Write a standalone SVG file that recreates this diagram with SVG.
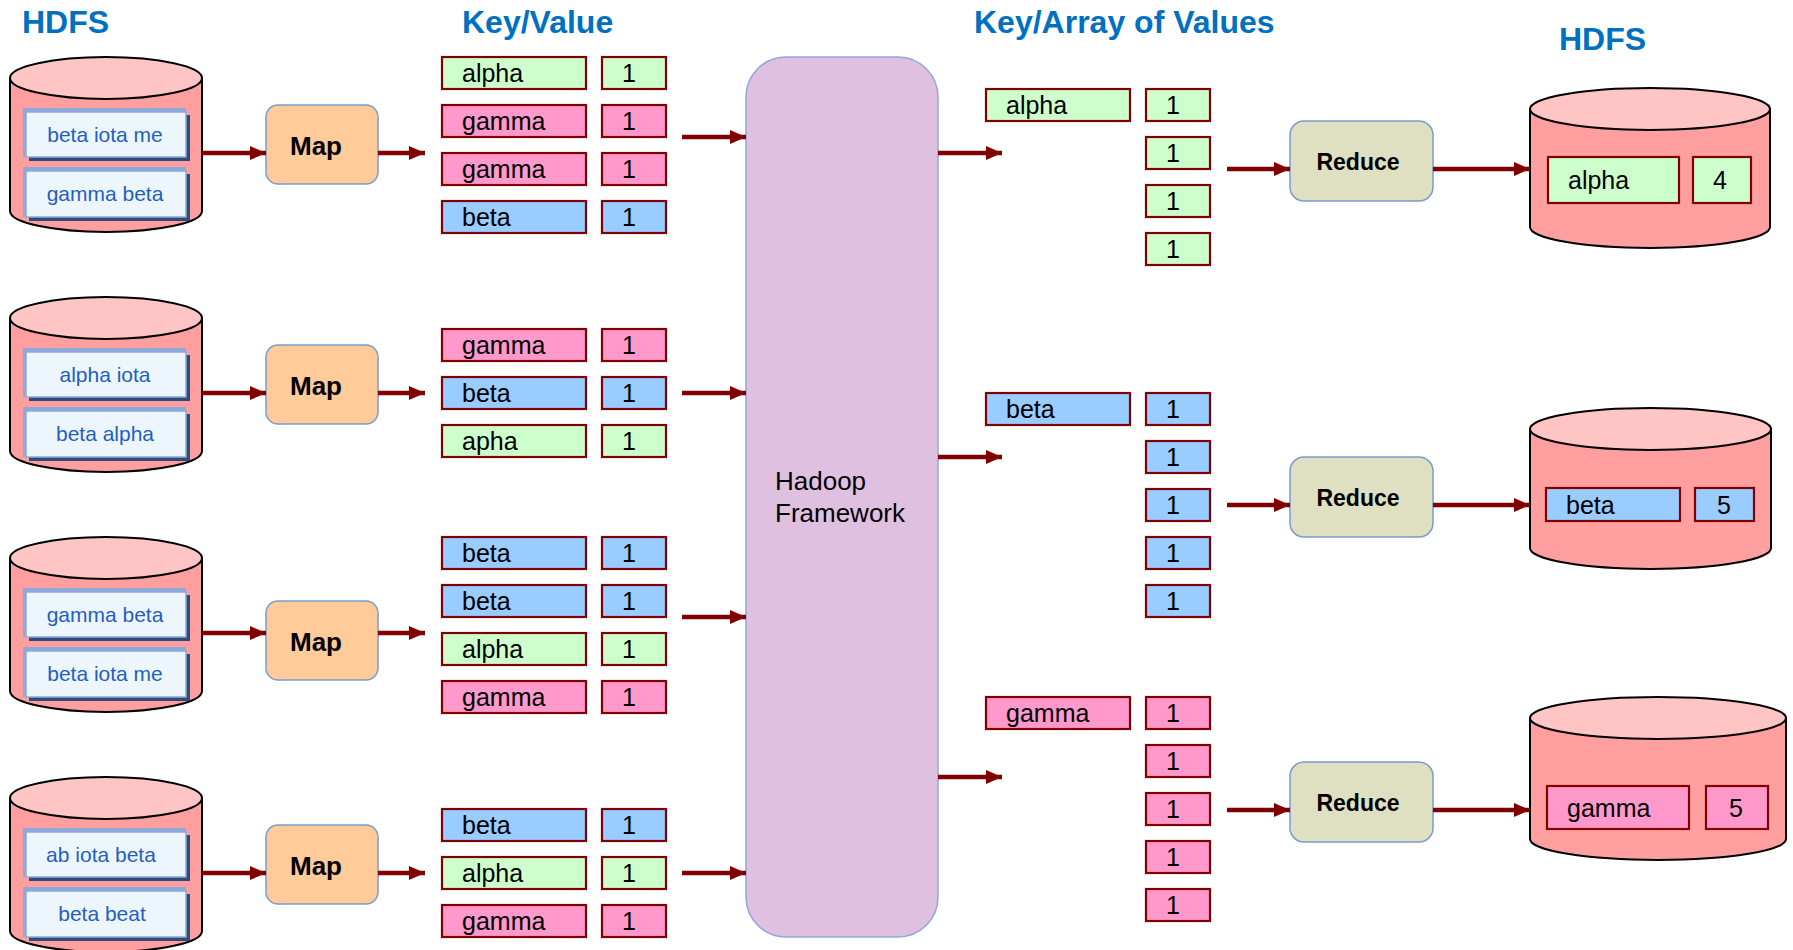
<svg xmlns="http://www.w3.org/2000/svg" width="1793" height="950" viewBox="0 0 1793 950">
  <defs>
    <marker id="arrow" markerUnits="userSpaceOnUse" markerWidth="17" markerHeight="15" refX="16" refY="7" orient="auto">
      <path d="M0,0 L16,7 L0,14 Z" fill="#800000"/>
    </marker>
    <style>
      .title { font-family: "Liberation Sans", Arial, sans-serif; font-weight: bold; font-size: 32px; fill: #0070C0; }
      .cyl-body { fill: #FF9F9F; stroke: #000; stroke-width: 2; }
      .cyl-top { fill: #FFC5C5; stroke: #000; stroke-width: 2; }
      .doc-back { fill: #8DA9DB; }
      .doc-shadow { fill: #2F4B7A; }
      .doc { fill: #EEF6FD; stroke: #8DA9DB; stroke-width: 1.5; }
      .doc-text { font-family: "Liberation Sans", Arial, sans-serif; font-size: 21px; fill: #1F5FC4; text-anchor: middle; }
      .proc { stroke: #7A9CD0; stroke-width: 1.5; }
      .map { fill: #FFCC99; }
      .reduce { fill: #DFDFC1; }
      .proc-text { font-family: "Liberation Sans", Arial, sans-serif; font-weight: bold; fill: #000; text-anchor: middle; }
      .cell { stroke: #800000; stroke-width: 2.2; }
      .g { fill: #CCFFCC; }
      .p { fill: #FF99CC; }
      .b { fill: #99CCFF; }
      .cell-text { font-family: "Liberation Sans", Arial, sans-serif; font-size: 25px; fill: #000; }
      .hadoop { fill: #E0C0E0; stroke: #8FA8D8; stroke-width: 1.5; }
      .hadoop-text { font-family: "Liberation Sans", Arial, sans-serif; font-size: 26px; fill: #000; }
      .conn { stroke: #800000; stroke-width: 4.5; fill: none; marker-end: url(#arrow); }
    </style>
  </defs>

  <rect width="1793" height="950" fill="#fff"/>

  <!-- column headings -->
  <text class="title" x="22" y="33" font-size="31">HDFS</text>
  <text class="title" x="462" y="33">Key/Value</text>
  <text class="title" x="974" y="33">Key/Array of Values</text>
  <text class="title" x="1559" y="50" font-size="31">HDFS</text>

  <!-- input HDFS stores -->
  <g id="hdfs-in-1">
    <path class="cyl-body" d="M10,78 L10,211 A96,21 0 0 0 202,211 L202,78 Z"/>
    <ellipse class="cyl-top" cx="106" cy="78" rx="96" ry="21"/>
    <rect class="doc-shadow" x="29" y="115" width="161" height="46"/>
    <rect class="doc-back" x="23" y="108" width="163" height="49"/>
    <rect class="doc" x="26" y="112" width="160" height="45"/>
    <text class="doc-text" x="105" y="142">beta iota me</text>
    <rect class="doc-shadow" x="29" y="174" width="161" height="47"/>
    <rect class="doc-back" x="23" y="167" width="163" height="50"/>
    <rect class="doc" x="26" y="171" width="160" height="46"/>
    <text class="doc-text" x="105" y="201">gamma beta</text>
  </g>
  <g id="hdfs-in-2">
    <path class="cyl-body" d="M10,318 L10,451 A96,21 0 0 0 202,451 L202,318 Z"/>
    <ellipse class="cyl-top" cx="106" cy="318" rx="96" ry="21"/>
    <rect class="doc-shadow" x="29" y="355" width="161" height="46"/>
    <rect class="doc-back" x="23" y="348" width="163" height="49"/>
    <rect class="doc" x="26" y="352" width="160" height="45"/>
    <text class="doc-text" x="105" y="382">alpha iota</text>
    <rect class="doc-shadow" x="29" y="414" width="161" height="47"/>
    <rect class="doc-back" x="23" y="407" width="163" height="50"/>
    <rect class="doc" x="26" y="411" width="160" height="46"/>
    <text class="doc-text" x="105" y="441">beta alpha</text>
  </g>
  <g id="hdfs-in-3">
    <path class="cyl-body" d="M10,558 L10,691 A96,21 0 0 0 202,691 L202,558 Z"/>
    <ellipse class="cyl-top" cx="106" cy="558" rx="96" ry="21"/>
    <rect class="doc-shadow" x="29" y="595" width="161" height="46"/>
    <rect class="doc-back" x="23" y="588" width="163" height="49"/>
    <rect class="doc" x="26" y="592" width="160" height="45"/>
    <text class="doc-text" x="105" y="622">gamma beta</text>
    <rect class="doc-shadow" x="29" y="654" width="161" height="47"/>
    <rect class="doc-back" x="23" y="647" width="163" height="50"/>
    <rect class="doc" x="26" y="651" width="160" height="46"/>
    <text class="doc-text" x="105" y="681">beta iota me</text>
  </g>
  <g id="hdfs-in-4">
    <path class="cyl-body" d="M10,798 L10,931 A96,21 0 0 0 202,931 L202,798 Z"/>
    <ellipse class="cyl-top" cx="106" cy="798" rx="96" ry="21"/>
    <rect class="doc-shadow" x="29" y="835" width="161" height="46"/>
    <rect class="doc-back" x="23" y="828" width="163" height="49"/>
    <rect class="doc" x="26" y="832" width="160" height="45"/>
    <text class="doc-text" x="101" y="862">ab iota beta</text>
    <rect class="doc-shadow" x="29" y="894" width="161" height="47"/>
    <rect class="doc-back" x="23" y="887" width="163" height="50"/>
    <rect class="doc" x="26" y="891" width="160" height="46"/>
    <text class="doc-text" x="102" y="921">beta beat</text>
  </g>

  <!-- map tasks -->
  <g id="map-1"><rect class="proc map" x="266" y="105" width="112" height="79" rx="12"/><text class="proc-text" x="316" y="155" font-size="26">Map</text></g>
  <g id="map-2"><rect class="proc map" x="266" y="345" width="112" height="79" rx="12"/><text class="proc-text" x="316" y="395" font-size="26">Map</text></g>
  <g id="map-3"><rect class="proc map" x="266" y="601" width="112" height="79" rx="12"/><text class="proc-text" x="316" y="651" font-size="26">Map</text></g>
  <g id="map-4"><rect class="proc map" x="266" y="825" width="112" height="79" rx="12"/><text class="proc-text" x="316" y="875" font-size="26">Map</text></g>

  <!-- map output: key/value pairs -->
  <g id="kv-1">
    <rect class="cell g" x="442" y="57" width="144" height="32"/><text class="cell-text" x="462" y="82">alpha</text>
    <rect class="cell g" x="602" y="57" width="64" height="32"/><text class="cell-text" x="622" y="82">1</text>
    <rect class="cell p" x="442" y="105" width="144" height="32"/><text class="cell-text" x="462" y="130">gamma</text>
    <rect class="cell p" x="602" y="105" width="64" height="32"/><text class="cell-text" x="622" y="130">1</text>
    <rect class="cell p" x="442" y="153" width="144" height="32"/><text class="cell-text" x="462" y="178">gamma</text>
    <rect class="cell p" x="602" y="153" width="64" height="32"/><text class="cell-text" x="622" y="178">1</text>
    <rect class="cell b" x="442" y="201" width="144" height="32"/><text class="cell-text" x="462" y="226">beta</text>
    <rect class="cell b" x="602" y="201" width="64" height="32"/><text class="cell-text" x="622" y="226">1</text>
  </g>
  <g id="kv-2">
    <rect class="cell p" x="442" y="329" width="144" height="32"/><text class="cell-text" x="462" y="354">gamma</text>
    <rect class="cell p" x="602" y="329" width="64" height="32"/><text class="cell-text" x="622" y="354">1</text>
    <rect class="cell b" x="442" y="377" width="144" height="32"/><text class="cell-text" x="462" y="402">beta</text>
    <rect class="cell b" x="602" y="377" width="64" height="32"/><text class="cell-text" x="622" y="402">1</text>
    <rect class="cell g" x="442" y="425" width="144" height="32"/><text class="cell-text" x="462" y="450">apha</text>
    <rect class="cell g" x="602" y="425" width="64" height="32"/><text class="cell-text" x="622" y="450">1</text>
  </g>
  <g id="kv-3">
    <rect class="cell b" x="442" y="537" width="144" height="32"/><text class="cell-text" x="462" y="562">beta</text>
    <rect class="cell b" x="602" y="537" width="64" height="32"/><text class="cell-text" x="622" y="562">1</text>
    <rect class="cell b" x="442" y="585" width="144" height="32"/><text class="cell-text" x="462" y="610">beta</text>
    <rect class="cell b" x="602" y="585" width="64" height="32"/><text class="cell-text" x="622" y="610">1</text>
    <rect class="cell g" x="442" y="633" width="144" height="32"/><text class="cell-text" x="462" y="658">alpha</text>
    <rect class="cell g" x="602" y="633" width="64" height="32"/><text class="cell-text" x="622" y="658">1</text>
    <rect class="cell p" x="442" y="681" width="144" height="32"/><text class="cell-text" x="462" y="706">gamma</text>
    <rect class="cell p" x="602" y="681" width="64" height="32"/><text class="cell-text" x="622" y="706">1</text>
  </g>
  <g id="kv-4">
    <rect class="cell b" x="442" y="809" width="144" height="32"/><text class="cell-text" x="462" y="834">beta</text>
    <rect class="cell b" x="602" y="809" width="64" height="32"/><text class="cell-text" x="622" y="834">1</text>
    <rect class="cell g" x="442" y="857" width="144" height="32"/><text class="cell-text" x="462" y="882">alpha</text>
    <rect class="cell g" x="602" y="857" width="64" height="32"/><text class="cell-text" x="622" y="882">1</text>
    <rect class="cell p" x="442" y="905" width="144" height="32"/><text class="cell-text" x="462" y="930">gamma</text>
    <rect class="cell p" x="602" y="905" width="64" height="32"/><text class="cell-text" x="622" y="930">1</text>
  </g>

  <!-- shuffle / sort -->
  <g id="hadoop">
    <rect class="hadoop" x="746" y="57" width="192" height="880" rx="40"/>
    <text class="hadoop-text" x="775" y="490">Hadoop</text>
    <text class="hadoop-text" x="775" y="522">Framework</text>
  </g>

  <!-- grouped values -->
  <g id="ka-alpha">
    <rect class="cell g" x="986" y="89" width="144" height="32"/><text class="cell-text" x="1006" y="114">alpha</text>
    <rect class="cell g" x="1146" y="89" width="64" height="32"/><text class="cell-text" x="1166" y="114">1</text>
    <rect class="cell g" x="1146" y="137" width="64" height="32"/><text class="cell-text" x="1166" y="162">1</text>
    <rect class="cell g" x="1146" y="185" width="64" height="32"/><text class="cell-text" x="1166" y="210">1</text>
    <rect class="cell g" x="1146" y="233" width="64" height="32"/><text class="cell-text" x="1166" y="258">1</text>
  </g>
  <g id="ka-beta">
    <rect class="cell b" x="986" y="393" width="144" height="32"/><text class="cell-text" x="1006" y="418">beta</text>
    <rect class="cell b" x="1146" y="393" width="64" height="32"/><text class="cell-text" x="1166" y="418">1</text>
    <rect class="cell b" x="1146" y="441" width="64" height="32"/><text class="cell-text" x="1166" y="466">1</text>
    <rect class="cell b" x="1146" y="489" width="64" height="32"/><text class="cell-text" x="1166" y="514">1</text>
    <rect class="cell b" x="1146" y="537" width="64" height="32"/><text class="cell-text" x="1166" y="562">1</text>
    <rect class="cell b" x="1146" y="585" width="64" height="32"/><text class="cell-text" x="1166" y="610">1</text>
  </g>
  <g id="ka-gamma">
    <rect class="cell p" x="986" y="697" width="144" height="32"/><text class="cell-text" x="1006" y="722">gamma</text>
    <rect class="cell p" x="1146" y="697" width="64" height="32"/><text class="cell-text" x="1166" y="722">1</text>
    <rect class="cell p" x="1146" y="745" width="64" height="32"/><text class="cell-text" x="1166" y="770">1</text>
    <rect class="cell p" x="1146" y="793" width="64" height="32"/><text class="cell-text" x="1166" y="818">1</text>
    <rect class="cell p" x="1146" y="841" width="64" height="32"/><text class="cell-text" x="1166" y="866">1</text>
    <rect class="cell p" x="1146" y="889" width="64" height="32"/><text class="cell-text" x="1166" y="914">1</text>
  </g>

  <!-- reduce tasks -->
  <g id="reduce-1"><rect class="proc reduce" x="1290" y="121" width="143" height="80" rx="14"/><text class="proc-text" x="1358" y="170" font-size="23">Reduce</text></g>
  <g id="reduce-2"><rect class="proc reduce" x="1290" y="457" width="143" height="80" rx="14"/><text class="proc-text" x="1358" y="506" font-size="23">Reduce</text></g>
  <g id="reduce-3"><rect class="proc reduce" x="1290" y="762" width="143" height="80" rx="14"/><text class="proc-text" x="1358" y="811" font-size="23">Reduce</text></g>

  <!-- output HDFS stores -->
  <g id="hdfs-out-1">
    <path class="cyl-body" d="M1530,109 L1530,227 A120,21 0 0 0 1770,227 L1770,109 Z"/>
    <ellipse class="cyl-top" cx="1650" cy="109" rx="120" ry="21"/>
    <rect class="cell g" x="1548" y="157" width="131" height="46" stroke-width="1.6"/><text class="cell-text" x="1568" y="189" font-size="26">alpha</text>
    <rect class="cell g" x="1693" y="157" width="58" height="46" stroke-width="1.6"/><text class="cell-text" x="1713" y="189" font-size="26">4</text>
  </g>
  <g id="hdfs-out-2">
    <path class="cyl-body" d="M1530,429 L1530,548 A120.5,21 0 0 0 1771,548 L1771,429 Z"/>
    <ellipse class="cyl-top" cx="1650.5" cy="429" rx="120.5" ry="21"/>
    <rect class="cell b" x="1546" y="488" width="134" height="33"/><text class="cell-text" x="1566" y="514">beta</text>
    <rect class="cell b" x="1695" y="488" width="59" height="33"/><text class="cell-text" x="1717" y="514">5</text>
  </g>
  <g id="hdfs-out-3">
    <path class="cyl-body" d="M1530,718 L1530,839 A128,21 0 0 0 1786,839 L1786,718 Z"/>
    <ellipse class="cyl-top" cx="1658" cy="718" rx="128" ry="21"/>
    <rect class="cell p" x="1547" y="786" width="142" height="43"/><text class="cell-text" x="1567" y="817">gamma</text>
    <rect class="cell p" x="1706" y="786" width="62" height="43"/><text class="cell-text" x="1729" y="817">5</text>
  </g>

  <!-- connectors -->
  <g id="connectors">
    <line class="conn" x1="202" y1="153" x2="266" y2="153"/>
    <line class="conn" x1="202" y1="393" x2="266" y2="393"/>
    <line class="conn" x1="202" y1="633" x2="266" y2="633"/>
    <line class="conn" x1="202" y1="873" x2="266" y2="873"/>

    <line class="conn" x1="378" y1="153" x2="425" y2="153"/>
    <line class="conn" x1="378" y1="393" x2="425" y2="393"/>
    <line class="conn" x1="378" y1="633" x2="425" y2="633"/>
    <line class="conn" x1="378" y1="873" x2="425" y2="873"/>

    <line class="conn" x1="682" y1="137" x2="746" y2="137"/>
    <line class="conn" x1="682" y1="393" x2="746" y2="393"/>
    <line class="conn" x1="682" y1="617" x2="746" y2="617"/>
    <line class="conn" x1="682" y1="873" x2="746" y2="873"/>

    <line class="conn" x1="938" y1="153" x2="1002" y2="153"/>
    <line class="conn" x1="938" y1="457" x2="1002" y2="457"/>
    <line class="conn" x1="938" y1="777" x2="1002" y2="777"/>

    <line class="conn" x1="1227" y1="169" x2="1290" y2="169"/>
    <line class="conn" x1="1227" y1="505" x2="1290" y2="505"/>
    <line class="conn" x1="1227" y1="810" x2="1290" y2="810"/>

    <line class="conn" x1="1433" y1="169" x2="1530" y2="169"/>
    <line class="conn" x1="1433" y1="505" x2="1530" y2="505"/>
    <line class="conn" x1="1433" y1="810" x2="1530" y2="810"/>
  </g>
</svg>
